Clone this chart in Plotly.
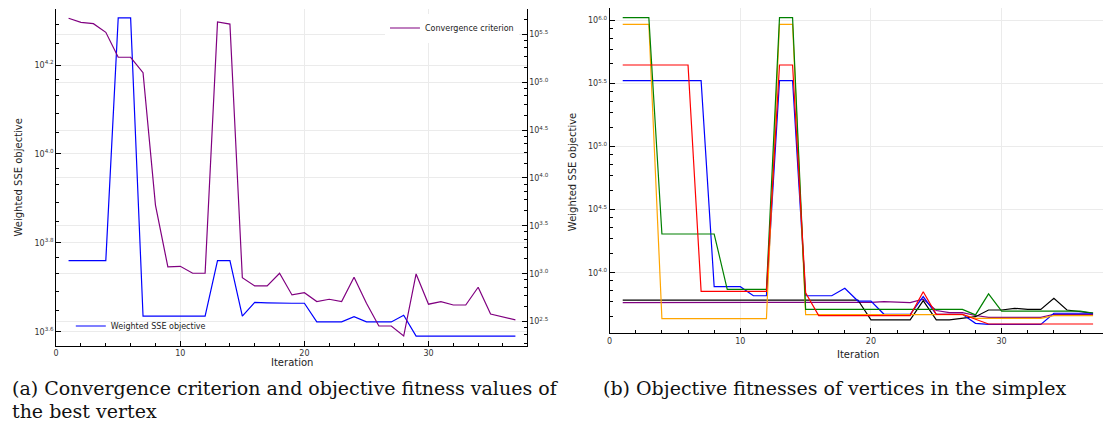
import plotly.graph_objects as go

iterations = list(range(1, 38))

# (a) convergence criterion (right axis) and best weighted SSE objective (left axis)
convergence = [464500, 421700, 408300, 331900, 182000, 182000, 125600, 5210, 1178, 1197,
               1012, 1012, 424600, 404600, 910, 746, 746, 1012, 601, 635,
               512, 542, 512, 918, 492, 285, 285, 224, 995, 481,
               512, 472, 472, 723, 380, 356, 330]
best_sse = [5754, 5754, 5754, 5754, 20230, 20230, 4315, 4315, 4315, 4315,
            4315, 4315, 5754, 5754, 4315, 4634, 4624, 4613, 4613, 4613,
            4188, 4188, 4188, 4305, 4188, 4188, 4188, 4335, 3890, 3890,
            3890, 3890, 3890, 3890, 3890, 3890, 3890]

# (b) objective fitness of each simplex vertex
v_green = [1057000, 1057000, 1057000, 20280, 20280, 20280, 20280, 20280, 7380, 7380,
           7380, 7380, 1057000, 1057000, 5117, 5117, 5117, 5117, 5117, 5117,
           5117, 5117, 5117, 5117, 5117, 5117, 5117, 4624, 6792, 4955,
           4955, 4955, 4955, 4955, 4955, 4955, 4786]
v_orange = [935400, 935400, 935400, 4315, 4315, 4315, 4315, 4315, 4315, 4315,
            4315, 4315, 935400, 935400, 4645, 4645, 4645, 4645, 4645, 4645,
            4645, 4645, 4645, 4645, 4645, 4645, 4645, 4345, 4345, 4345,
            4345, 4345, 4345, 4560, 4560, 4560, 4560]
v_red = [444600, 444600, 444600, 444600, 444600, 444600, 7112, 7112, 7112, 7112,
         7112, 7112, 444600, 444600, 6934, 4560, 4560, 4560, 4560, 4560,
         4560, 4560, 4560, 7063, 4677, 4677, 4677, 4266, 3917, 3917,
         3917, 3917, 3917, 3917, 3917, 3917, 3917]
v_blue = [334200, 334200, 334200, 334200, 334200, 334200, 334200, 7745, 7745, 7745,
          6561, 6561, 334200, 334200, 6561, 6561, 6561, 7516, 5957, 5957,
          4677, 4677, 4677, 6457, 4677, 4677, 4677, 3963, 3890, 3890,
          3890, 3890, 3890, 4764, 4764, 4764, 4764]
v_purple = [5781, 5781, 5781, 5781, 5781, 5781, 5781, 5781, 5781, 5781,
            5781, 5781, 5781, 5781, 5781, 5781, 5781, 5781, 5781, 5821,
            5888, 5821, 5781, 6166, 5012, 4819, 4819, 4571, 4416, 4416,
            4416, 4416, 4416, 4677, 4677, 4677, 4677]
v_black = [6067, 6067, 6067, 6067, 6067, 6067, 6067, 6067, 6067, 6067,
           6067, 6067, 6067, 6067, 6067, 6067, 6067, 6067, 6067, 4217,
           4217, 4217, 4217, 5998, 4217, 4217, 4345, 4477, 5058, 5058,
           5212, 5117, 5117, 6266, 5058, 4909, 4764]

# tick exponents
left_exps = [3.6, 3.8, 4.0, 4.2]
conv_exps = [2.5, 3.0, 3.5, 4.0, 4.5, 5.0, 5.5]
right_exps = [4.0, 4.5, 5.0, 5.5, 6.0]
x_major = [0, 10, 20, 30]
x_minor = [2, 4, 6, 8, 12, 14, 16, 18, 22, 24, 26, 28, 32, 34, 36]

W, H = 1105, 427
SANS = "DejaVu Sans"
SERIF = "DejaVu Serif"


def major_vals(exps):
    return [10 ** e for e in exps]


def major_text(exps):
    return ["10<sup>%.1f</sup>" % e for e in exps]


def minor_vals(exps):
    step = exps[1] - exps[0]
    full = [exps[0] - step] + list(exps) + [exps[-1] + step]
    out = []
    for a, b in zip(full[:-1], full[1:]):
        va, vb = 10 ** a, 10 ** b
        out += [va + k * (vb - va) / 5 for k in range(1, 5)]
    return out


def px_x(p):
    return p / W


def px_y(p):
    return 1 - p / H


fig = go.Figure()

fig.add_trace(go.Scatter(x=iterations, y=convergence, mode="lines", name="Convergence criterion",
                         line=dict(color="#800080", width=1.2), xaxis="x", yaxis="y2", legend="legend"))
fig.add_trace(go.Scatter(x=iterations, y=best_sse, mode="lines", name="Weighted SSE objective",
                         line=dict(color="#0000ff", width=1.2), xaxis="x", yaxis="y", legend="legend2"))

for vals, col in [(v_purple, "#800080"), (v_black, "#000000"), (v_blue, "#0000ff"),
                  (v_orange, "#ffa500"), (v_green, "#008000"), (v_red, "#ff0000")]:
    fig.add_trace(go.Scatter(x=iterations, y=vals, mode="lines", showlegend=False,
                             line=dict(color=col, width=1.2), xaxis="x2", yaxis="y3"))

grid = "#ebebeb"
tickfont = dict(family=SANS, size=8, color="#333333")
common_axis = dict(showline=True, linecolor="black", linewidth=1, ticks="inside", ticklen=5,
                   tickcolor="black", showgrid=True, gridcolor=grid, gridwidth=1,
                   zeroline=False, tickfont=tickfont)


def log_minor(exps):
    return dict(tickmode="array", tickvals=minor_vals(exps), ticks="inside", ticklen=3,
                tickcolor="black", showgrid=False)


x_minor_d = dict(tickmode="array", tickvals=x_minor, ticks="inside", ticklen=3,
                 tickcolor="black", showgrid=False)

xdom_l = [px_x(53.3), px_x(525)]
ydom_l = [px_y(345.7), px_y(9)]
xdom_r = [px_x(608.3), px_x(1103)]
ydom_r = [px_y(333.3), px_y(8.3)]

fig.update_layout(
    width=W, height=H, autosize=False,
    margin=dict(l=0, r=0, t=0, b=0),
    paper_bgcolor="white", plot_bgcolor="white",
    xaxis=dict(domain=xdom_l, anchor="y", range=[0, 37.9], tickmode="array", tickvals=x_major,
               minor=x_minor_d, **common_axis),
    yaxis=dict(domain=ydom_l, anchor="x", type="log", range=[3.5685, 4.326], tickmode="array",
               tickvals=major_vals(left_exps), ticktext=major_text(left_exps),
               minor=log_minor(left_exps), **common_axis),
    yaxis2=dict(overlaying="y", anchor="x", side="right", type="log", range=[2.249, 5.764], tickmode="array",
                tickvals=major_vals(conv_exps), ticktext=major_text(conv_exps),
                minor=log_minor(conv_exps), **common_axis),
    xaxis2=dict(domain=xdom_r, anchor="y3", range=[0, 37.76], tickmode="array", tickvals=x_major,
                minor=x_minor_d, **common_axis),
    yaxis3=dict(domain=ydom_r, anchor="x2", type="log", range=[3.519, 6.098], tickmode="array",
                tickvals=major_vals(right_exps), ticktext=major_text(right_exps),
                minor=log_minor(right_exps), **common_axis),
    legend=dict(x=px_x(383), y=px_y(28), xanchor="left", yanchor="middle", bgcolor="white", borderwidth=0,
                font=dict(family=SANS, size=8, color="#222222"), tracegroupgap=0),
    legend2=dict(x=px_x(68), y=px_y(326), xanchor="left", yanchor="middle", bgcolor="rgba(255,255,255,0)",
                 borderwidth=0, font=dict(family=SANS, size=8, color="#222222"), tracegroupgap=0),
)

annotations = [
    dict(text="Weighted SSE objective", x=px_x(16), y=px_y(177.5), textangle=-90),
    dict(text="Weighted SSE objective", x=px_x(571), y=px_y(171.7), textangle=-90),
    dict(text="Iteration", x=px_x(290), y=px_y(362)),
    dict(text="Iteration", x=px_x(857), y=px_y(354)),
]
for a in annotations:
    fig.add_annotation(xref="paper", yref="paper", showarrow=False, xanchor="center", yanchor="middle",
                       font=dict(family=SANS, size=10, color="#222222"), **a)

captions = [
    ("(a) Convergence criterion and objective fitness values of", 7, 388),
    ("the best vertex", 7, 411),
    ("(b) Objective fitnesses of vertices in the simplex", 600, 388),
]
for text, x, y in captions:
    fig.add_annotation(text=text, xref="paper", yref="paper", x=px_x(x), y=px_y(y), showarrow=False,
                       xanchor="left", yanchor="middle", font=dict(family=SERIF, size=19, color="#111111"))

fig.write_html("out.html", config={"displayModeBar": False},
               post_script="document.body.style.margin='0';")
